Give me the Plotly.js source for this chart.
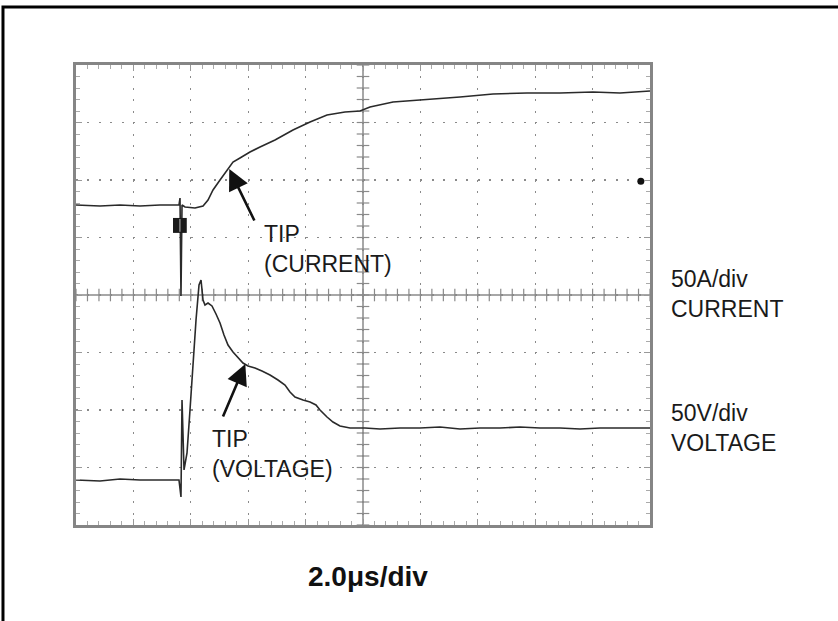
<!DOCTYPE html>
<html>
<head>
<meta charset="utf-8">
<script src="https://cdn.plot.ly/plotly-3.0.1.min.js"></script>
<style>
html,body{margin:0;padding:0;background:#fff;}
#chart{width:838px;height:621px;}
</style>
</head>
<body>
<div id="chart"></div>
<script>
// Time axis in divisions (2.0 us/div), values in divisions (0 = bottom of screen, 4 = centre)
const currentT = [0,0.418,0.767,1.115,1.463,1.794,1.812,1.829,1.847,1.899,2.073,2.213,2.300,2.387,2.509,2.631,2.735,2.857,3.031,3.206,3.467,3.780,4.077,4.373,4.686,4.948,5.122,5.523,5.993,6.341,6.690,7.265,7.857,8.432,9.007,9.477,10];
const currentV = [5.565,5.548,5.565,5.548,5.565,5.565,5.687,3.983,5.565,5.530,5.513,5.548,5.652,5.826,6.0,6.174,6.313,6.383,6.487,6.574,6.696,6.870,7.009,7.130,7.183,7.2,7.270,7.357,7.391,7.426,7.443,7.496,7.513,7.513,7.530,7.513,7.548];

const voltageT = [0,0.418,0.767,1.115,1.463,1.794,1.829,1.847,1.882,1.934,1.986,2.038,2.091,2.143,2.178,2.213,2.247,2.300,2.369,2.439,2.509,2.578,2.648,2.735,2.822,2.909,2.997,3.118,3.240,3.380,3.519,3.641,3.728,3.815,3.955,4.077,4.181,4.251,4.373,4.477,4.599,4.774,5.035,5.296,5.645,5.993,6.341,6.690,7.038,7.387,7.735,8.084,8.432,8.780,9.129,9.477,10];
const voltageV = [0.783,0.765,0.8,0.783,0.783,0.783,0.487,2.174,0.957,1.252,2.0,2.817,3.565,4.174,4.261,3.913,3.826,3.861,3.809,3.670,3.513,3.304,3.130,3.009,2.904,2.817,2.765,2.730,2.678,2.609,2.522,2.435,2.313,2.226,2.174,2.139,2.087,2.0,1.878,1.791,1.722,1.687,1.687,1.670,1.687,1.687,1.704,1.670,1.687,1.687,1.704,1.687,1.687,1.670,1.687,1.687,1.687];

const labelsRight = ["50A/div<br>CURRENT", "50V/div<br>VOLTAGE"];
const timeBaseLabel = "2.0\u03bcs/div";
const tipCurrentLabel = "TIP<br>(CURRENT)";
const tipVoltageLabel = "TIP<br>(VOLTAGE)";

const nDivX = 10, nDivY = 8;
const gridColor = '#8a8a8a';
const traceColor = '#2a2a2a';
const font = 'Liberation Sans, Arial, Helvetica, sans-serif';

// centre-line tick marks (graticule)
const hx = [], hy = [], vx = [], vy = [];
for (let k = 0; k <= nDivX * 5; k++) { hx.push(k * 0.2); hy.push(nDivY / 2); }
for (let k = 0; k <= nDivY * 5; k++) { vx.push(nDivX / 2); vy.push(k * 0.2); }

const traces = [
  {x: hx, y: hy, mode: 'markers', hoverinfo: 'skip', showlegend: false,
   marker: {symbol: 'line-ns', size: 9, line: {color: gridColor, width: 1.2}}},
  {x: vx, y: vy, mode: 'markers', hoverinfo: 'skip', showlegend: false,
   marker: {symbol: 'line-ew', size: 9, line: {color: gridColor, width: 1.2}}},
  {x: currentT, y: currentV, mode: 'lines', name: 'Current', showlegend: false,
   line: {color: traceColor, width: 1.6}},
  {x: voltageT, y: voltageV, mode: 'lines', name: 'Voltage', showlegend: false,
   line: {color: traceColor, width: 1.6}},
  {x: [9.84], y: [5.98], mode: 'markers', hoverinfo: 'skip', showlegend: false,
   marker: {symbol: 'circle', size: 7, color: '#111'}}
];

const axisCommon = {
  showticklabels: false, zeroline: false,
  showline: true, mirror: 'allticks', linecolor: '#858585', linewidth: 3,
  ticks: 'inside', ticklen: 6, tickcolor: '#999', tickwidth: 1, dtick: 1, tick0: 0,
  minor: {dtick: 0.2, ticks: 'inside', ticklen: 4, tickcolor: '#aaa', showgrid: false},
  showgrid: true, gridcolor: gridColor, gridwidth: 1.3, griddash: '2px,9.48px',
  fixedrange: true
};

const layout = {
  width: 838, height: 621,
  margin: {l: 76, r: 188, t: 65, b: 96},
  paper_bgcolor: '#fff', plot_bgcolor: '#fff',
  xaxis: Object.assign({}, axisCommon, {range: [0, nDivX]}),
  yaxis: Object.assign({}, axisCommon, {range: [0, nDivY]}),
  shapes: [
    {type: 'line', xref: 'x', yref: 'y', x0: 0, x1: nDivX, y0: nDivY/2, y1: nDivY/2, line: {color: gridColor, width: 1.5}, layer: 'below'},
    {type: 'line', xref: 'x', yref: 'y', x0: nDivX/2, x1: nDivX/2, y0: 0, y1: nDivY, line: {color: gridColor, width: 1.5}, layer: 'below'},
    {type: 'rect', xref: 'x', yref: 'y', x0: 1.69, x1: 1.93, y0: 5.08, y1: 5.34, fillcolor: '#1a1a1a', line: {width: 0}},
    {type: 'line', xref: 'x', yref: 'y', x0: 1.81, x1: 1.81, y0: 5.1, y1: 5.32, line: {color: '#888', width: 1.5}},
    {type: 'rect', xref: 'paper', yref: 'paper', x0: -0.1272, x1: 1.6, y0: -0.4, y1: 1.126, line: {color: '#000', width: 3}}
  ],
  annotations: [
    {xref: 'x', yref: 'y', axref: 'x', ayref: 'y', x: 2.67, y: 6.19, ax: 3.12, ay: 5.27,
     showarrow: true, arrowhead: 2, arrowsize: 1.6, arrowwidth: 2.6, arrowcolor: '#111', text: ''},
    {xref: 'x', yref: 'y', axref: 'x', ayref: 'y', x: 2.95, y: 2.80, ax: 2.55, ay: 1.86,
     showarrow: true, arrowhead: 2, arrowsize: 1.6, arrowwidth: 2.6, arrowcolor: '#111', text: ''},
    {xref: 'x', yref: 'y', x: 3.24, y: 4.80, xanchor: 'left', yanchor: 'middle', align: 'left', showarrow: false,
     text: tipCurrentLabel, font: {family: font, size: 23, color: '#1a1a1a'}},
    {xref: 'x', yref: 'y', x: 2.34, y: 1.23, xanchor: 'left', yanchor: 'middle', align: 'left', showarrow: false,
     text: tipVoltageLabel, font: {family: font, size: 23, color: '#1a1a1a'}},
    {xref: 'paper', yref: 'paper', x: 1.033, y: 0.503, xanchor: 'left', yanchor: 'middle', align: 'left', showarrow: false,
     text: labelsRight[0], font: {family: font, size: 23, color: '#1a1a1a'}},
    {xref: 'paper', yref: 'paper', x: 1.033, y: 0.211, xanchor: 'left', yanchor: 'middle', align: 'left', showarrow: false,
     text: labelsRight[1], font: {family: font, size: 23, color: '#1a1a1a'}},
    {xref: 'paper', yref: 'paper', x: 0.508, y: -0.113, xanchor: 'center', yanchor: 'middle', showarrow: false,
     text: '<b>' + timeBaseLabel + '</b>', font: {family: font, size: 28, color: '#111'}}
  ]
};

Plotly.newPlot('chart', traces, layout, {displayModeBar: false, staticPlot: true});
</script>
</body>
</html>
